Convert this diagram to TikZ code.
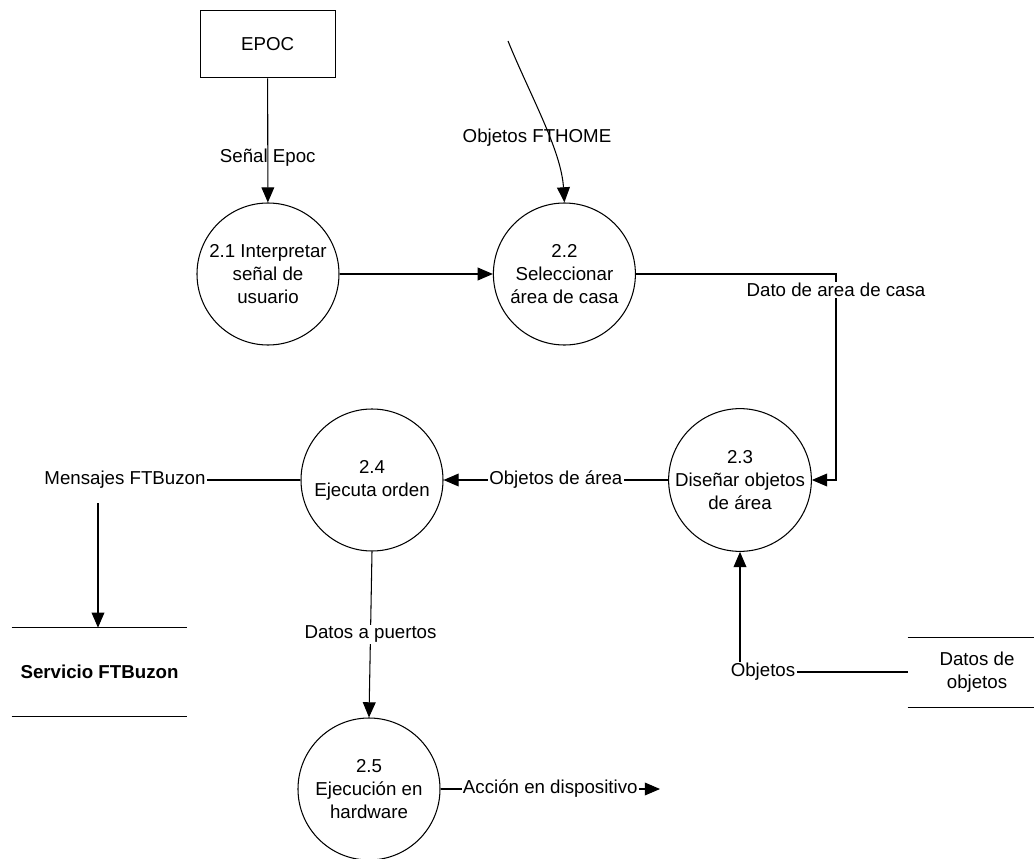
\documentclass[tikz,border=0pt]{standalone}
\usepackage{fontspec}
\setmainfont{Liberation Sans}
\usepackage{tikz}
\usetikzlibrary{arrows.meta,positioning}

\begin{document}
\begin{tikzpicture}[
    font=\fontsize{13.3pt}{16.4pt}\selectfont,
    process/.style={draw,circle,line width=0.75pt,minimum size=3.55cm,inner sep=0pt,align=center},
    flow/.style={line width=0.75pt,-{Triangle[length=0.38cm,width=0.32cm]}},
    plain/.style={line width=0.75pt},
    lbl/.style={inner sep=1pt,align=center},
    store/.style={align=center,minimum height=2.2cm}
  ]
  \useasboundingbox (0,0) rectangle (25.85,-21.475);

  \node[draw,line width=0.75pt,minimum width=3.375cm,minimum height=1.675cm] (epoc) at (6.69,-1.11) {EPOC};

  \node[process] (c21) at (6.7,-6.85) {2.1 Interpretar\\se\~nal de\\usuario};
  \node[process] (c22) at (14.11,-6.85) {2.2\\Seleccionar\\\'area de casa};
  \node[process] (c23) at (18.5,-12.0) {2.3\\Dise\~nar objetos\\de \'area};
  \node[process] (c24) at (9.3,-12.0) {2.4\\Ejecuta orden};
  \node[process] (c25) at (9.225,-19.725) {2.5\\Ejecuci\'on en\\hardware};

  % almacenes
  \node[store,minimum width=4.375cm,font=\fontsize{13.3pt}{16.4pt}\selectfont\bfseries] (buzon) at (2.4875,-16.8) {Servicio FTBuzon};
  \draw[plain] (buzon.north west) -- (buzon.north east);
  \draw[plain] (buzon.south west) -- (buzon.south east);
  \node[store,minimum width=3.45cm,minimum height=1.725cm] (dobj) at (24.425,-16.81) {Datos de\\objetos};
  \draw[plain] (dobj.north west) -- (dobj.north east);
  \draw[plain] (dobj.south west) -- (dobj.south east);

  \coordinate (fthome) at (12.7,-1.025);
  \coordinate (bend) at (20.9,-6.85);
  \coordinate (msgout) at (2.45,-12.575);
  \coordinate (accion) at (16.5,-19.725);

  % flujos
  \draw[flow] (epoc) -- (c21) node[pos=0.64,lbl] {Se\~nal Epoc};
  \draw[flow] (fthome) .. controls (13.25,-2.375) and (14.03,-3.75) .. (c22.north);
  \node[lbl] at (13.425,-3.45) {Objetos FTHOME};
  \draw[flow] (c21) -- (c22);
  \draw[flow] (c22.east) -- (bend) |- (c23.east);
  \node[lbl,fill=white] at (20.9,-7.25) {Dato de area de casa};
  \draw[flow] (c23) -- (c24) node[midway,lbl,fill=white] {Objetos de \'area};

  \node[lbl] (lmsg) at (3.125,-12.0) {Mensajes FTBuzon};
  \draw[plain] (c24.west) -- (lmsg.east);
  \draw[flow] (msgout) -- (msgout |- buzon.north);

  \draw[flow] (c24.south) -- (c25.north) node[midway,lbl,fill=white] {Datos a puertos};
  \draw[flow] (c25.east) -- (accion) node[midway,lbl,fill=white] {Acci\'on en dispositivo};

  \node[lbl] (lobj) at (19.075,-16.8) {Objetos};
  \draw[plain] (lobj.east) -- (lobj.east -| dobj.west);
  \draw[flow] (lobj.north -| c23.south) -- (c23.south);
\end{tikzpicture}
\end{document}
